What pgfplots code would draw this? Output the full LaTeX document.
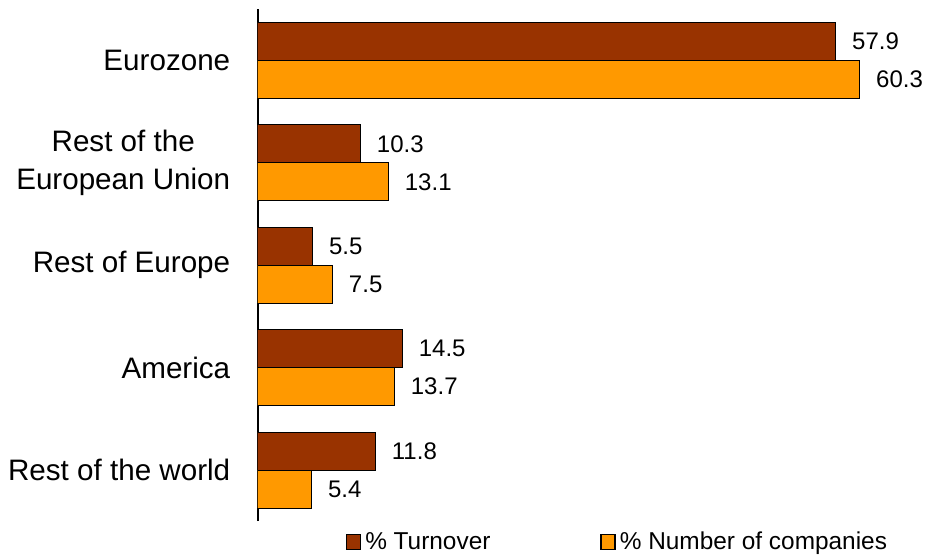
\documentclass[border=0pt]{standalone}
\usepackage{pgfplots}
\pgfplotsset{compat=1.18}
\usepackage{fontspec}
\setmainfont{Liberation Sans}
\definecolor{turn}{HTML}{993300}
\definecolor{comp}{HTML}{FF9900}
\pgfplotstableread{
y turnover companies
4 57.9 60.3
3 10.3 13.1
2 5.5 7.5
1 14.5 13.7
0 11.8 5.4
}\datatable
\begin{document}
\begin{tikzpicture}[x=0.5pt,y=0.5pt]
\useasboundingbox (0,0) rectangle (929,554);
\begin{axis}[
  at={(258,32)}, anchor=south west,
  width=324.5pt, height=256pt, scale only axis,
  xbar=0pt, bar width=19pt,
  xmin=0, xmax=65,
  ymin=-0.5, ymax=4.5,
  axis x line=none,
  axis y line*=left,
  y axis line style={line width=1pt, -},
  ytick={0,1,2,3,4},
  yticklabels={Rest of the world,America,Rest of Europe,{Rest of the\\European Union},Eurozone},
  major tick length=0pt,
  yticklabel style={align=center, font=\fontsize{14.8}{19}\selectfont, inner sep=0pt, xshift=-13.5pt},
  /pgf/number format/.cd, fixed, fixed zerofill, precision=1, assume math mode=true,
  /pgfplots/.cd,
  nodes near coords,
  point meta=x,
  every node near coord/.append style={font=\fontsize{12}{14}\selectfont, inner sep=0pt, xshift=8pt, anchor=west, text=black},
  legend columns=2,
  legend style={draw=none, at={(0.556,-0.041)}, anchor=center, font=\fontsize{12.2}{15}\selectfont,
    /tikz/every even column/.append style={column sep=53pt}, inner sep=0pt},
  legend image code/.code={\draw[#1, draw=black, line width=0.7pt] (0pt,-3.75pt) rectangle (7pt,3.75pt);},
]
\addplot[fill=turn, draw=black, line width=0.5pt, bar shift=9.5pt] table[x=turnover, y=y] {\datatable};
\addplot[fill=comp, draw=black, line width=0.5pt, bar shift=-9.5pt] table[x=companies, y=y] {\datatable};
\legend{\% Turnover, \% Number of companies}
\end{axis}
\end{tikzpicture}
\end{document}
